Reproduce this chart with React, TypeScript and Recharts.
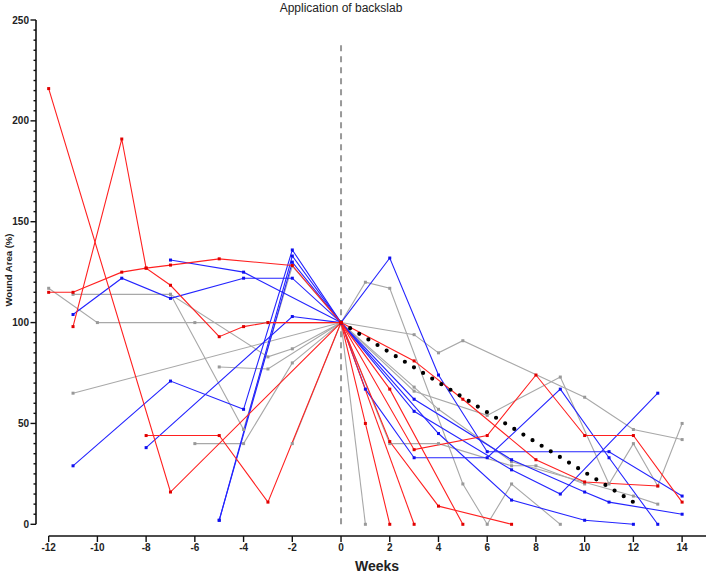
import { LineChart, Line, XAxis, YAxis, ReferenceLine } from "recharts";

// weeks relative to backslab application, wound area as % of area at week 0
const WEEK_TICKS = [-12, -10, -8, -6, -4, -2, 0, 2, 4, 6, 8, 10, 12, 14];
const AREA_TICKS = Array.from({ length: 51 }, (_, i) => i * 5); // labels every 50, minor every 5

// [week, area %] per wound, split at week 0
const redBefore1 = [[-12, 216], [-7, 16], [0, 100]];
const redBefore2 = [[-12, 115], [-11, 115], [-9, 125], [-8, 127], [-7, 128.5], [-5, 131.6], [-2, 128.3], [0, 100]];
const redBefore3 = [[-11, 98], [-9, 191], [-8, 127], [-7, 118.5], [-5, 93], [-4, 98], [-3, 100], [0, 100]];
const redBefore4 = [[-8, 44], [-5, 44], [-3, 11], [0, 100]];

const redAfter1 = [[0, 100], [1, 50], [2, 0]];
const redAfter2 = [[0, 100], [2, 67], [5, 0]];
const redAfter3 = [[0, 100], [2, 41], [4, 9], [7, 0]];
const redAfter4 = [[0, 100], [3, 0]];
const redAfter5 = [[0, 100], [3, 37], [6, 44], [8, 74], [10, 44], [12, 44], [14, 11]];
const redAfter6 = [[0, 100], [3, 81], [5, 62], [8, 32], [10, 21], [13, 19]];

const blueBefore1 = [[-11, 29], [-7, 71], [-4, 57], [-2, 136], [0, 100]];
const blueBefore2 = [[-5, 2], [-2, 133], [0, 100]];
const blueBefore3 = [[-5, 2], [-2, 130], [0, 100]];
const blueBefore4 = [[-11, 104], [-9, 122], [-7, 112], [-4, 122], [-2, 122], [0, 100]];
const blueBefore5 = [[-7, 131], [-4, 125], [0, 100]];
const blueBefore6 = [[-8, 38], [-2, 103], [0, 100]];

const blueAfter1 = [[0, 100], [1, 67], [3, 33], [6, 33], [9, 67], [11, 33], [13, 0]];
const blueAfter2 = [[0, 100], [3, 56], [7, 27], [9, 15], [13, 65]];
const blueAfter3 = [[0, 100], [2, 132], [4, 74], [6, 36], [11, 36], [14, 14]];
const blueAfter4 = [[0, 100], [4, 45], [7, 12], [10, 2], [12, 0]];
const blueAfter5 = [[0, 100], [3, 62], [7, 32], [10, 16], [11, 11], [14, 5]];

const grayBefore1 = [[-12, 117], [-10, 100], [-6, 100], [-3, 100], [0, 100]];
const grayBefore2 = [[-11, 114], [-7, 114], [-3, 83], [-2, 87], [0, 100]];
const grayBefore3 = [[-7, 114], [-4, 47], [-2, 128], [0, 100]];
const grayBefore4 = [[-11, 65], [0, 100]];
const grayBefore5 = [[-5, 78], [-3, 77], [0, 100]];
const grayBefore6 = [[-6, 40], [-4, 40], [-2, 80], [0, 100]];
const grayBefore7 = [[-2, 40], [0, 100]];

const grayAfter1 = [[0, 100], [1, 120], [2, 117], [5, 20], [6, 0], [7, 20], [9, 0]];
const grayAfter2 = [[0, 100], [1, 0]];
const grayAfter3 = [[0, 100], [3, 94], [4, 85], [5, 91], [10, 63], [12, 47], [14, 42]];
const grayAfter4 = [[0, 100], [3, 66], [6, 54], [9, 73], [11, 20], [12, 40], [13, 19], [14, 50]];
const grayAfter5 = [[0, 100], [3, 68], [4, 57], [7, 31], [12, 14], [13, 10]];
const grayAfter6 = [[0, 100], [2, 40], [4, 40], [7, 29], [8, 29], [10, 20]];

// dotted overall trend after week 0
const trendWeeks = [0, 12];
const trendArea = [100, 11];

const RED = "#ff2020";
const BLUE = "#2424ff";
const GRAY = "#a8a8a8";
const FONT = "'Liberation Sans', Arial, sans-serif";

const groups = [
  { color: GRAY, dot: "#999", series: [grayBefore1, grayBefore2, grayBefore3, grayBefore4, grayBefore5, grayBefore6, grayBefore7, grayAfter1, grayAfter2, grayAfter3, grayAfter4, grayAfter5, grayAfter6] },
  { color: BLUE, dot: "#1010ee", series: [blueBefore1, blueBefore2, blueBefore3, blueBefore4, blueBefore5, blueBefore6, blueAfter1, blueAfter2, blueAfter3, blueAfter4, blueAfter5] },
  { color: RED, dot: "#e00000", series: [redBefore1, redBefore2, redBefore3, redBefore4, redAfter1, redAfter2, redAfter3, redAfter4, redAfter5, redAfter6] },
];

const toPoints = (pairs: number[][]) => pairs.map(([x, y]) => ({ x, y }));
const trend = trendWeeks.map((x, i) => ({ x, y: trendArea[i] }));

const X_DOMAIN = [-12.52, 14.98];
const Y_DOMAIN = [-5.8, 250];

function squareDot(fill: string) {
  return (p: any) => (
    <rect key={p.index} x={p.cx - 1.5} y={p.cy - 1.5} width={3} height={3} fill={fill} />
  );
}

function AreaTick({ x, y, payload }: any) {
  const major = payload.value % 50 === 0;
  const len = major ? 5.5 : 2.5;
  return (
    <g>
      <line x1={x - len} x2={x} y1={y} y2={y} stroke="#111" strokeWidth={1.4} />
      {major && (
        <text x={x - len - 1.5} y={y} dy="0.35em" textAnchor="end" fontSize={10} fontWeight="bold" fill="#222" fontFamily={FONT}>
          {payload.value}
        </text>
      )}
    </g>
  );
}

export default function App() {
  return (
    <div style={{ position: "absolute", left: 0, top: 0, width: 709, height: 573, background: "#fff" }}>
      <LineChart width={709} height={573} margin={{ top: 20, right: 3, bottom: 7, left: 6 }}>
        <XAxis
          type="number"
          dataKey="x"
          domain={X_DOMAIN}
          ticks={WEEK_TICKS}
          interval={0}
          allowDataOverflow
          axisLine={false}
          tickLine={{ stroke: "#111", strokeWidth: 1.4 }}
          tickSize={6}
          tickMargin={2}
          height={30}
          tick={{ fontSize: 10, fontWeight: "bold", fill: "#222", fontFamily: FONT }}
        />
        <YAxis
          type="number"
          dataKey="y"
          domain={Y_DOMAIN}
          ticks={AREA_TICKS}
          interval={0}
          allowDataOverflow
          axisLine={false}
          tickLine={false}
          tickSize={0}
          tickMargin={0}
          width={30}
          tick={<AreaTick />}
        />
        {/* offset axis lines, GraphPad style */}
        <ReferenceLine segment={[{ x: -12, y: -5.8 }, { x: 14.98, y: -5.8 }]} stroke="#111" strokeWidth={1.6} ifOverflow="visible" />
        <ReferenceLine segment={[{ x: -12.52, y: 0 }, { x: -12.52, y: 250 }]} stroke="#111" strokeWidth={1.6} ifOverflow="visible" />
        <ReferenceLine segment={[{ x: 0, y: 0 }, { x: 0, y: 238.8 }]} stroke="#999" strokeWidth={2} strokeDasharray="6 5" ifOverflow="visible" />

        {groups.flatMap((g, gi) =>
          g.series.map((s, si) => (
            <Line
              key={`${gi}-${si}`}
              data={toPoints(s)}
              dataKey="y"
              type="linear"
              stroke={g.color}
              strokeWidth={1.1}
              dot={squareDot(g.dot)}
              activeDot={false}
              isAnimationActive={false}
            />
          ))
        )}

        <Line
          data={trend}
          dataKey="y"
          type="linear"
          stroke="#000"
          strokeWidth={4.2}
          strokeDasharray="0 10.7"
          strokeLinecap="round"
          dot={false}
          activeDot={false}
          isAnimationActive={false}
        />

        <text x={341} y={11.5} textAnchor="middle" fontSize={12} fill="#222" fontFamily={FONT}>
          Application of backslab
        </text>
        <text x={377} y={571} textAnchor="middle" fontSize={14} fontWeight="bold" fill="#222" fontFamily={FONT}>
          Weeks
        </text>
        <text x={12} y={270} transform="rotate(-90 12 270)" textAnchor="middle" fontSize={9.5} fontWeight="bold" fill="#222" fontFamily={FONT}>
          Wound Area (%)
        </text>
      </LineChart>
    </div>
  );
}
